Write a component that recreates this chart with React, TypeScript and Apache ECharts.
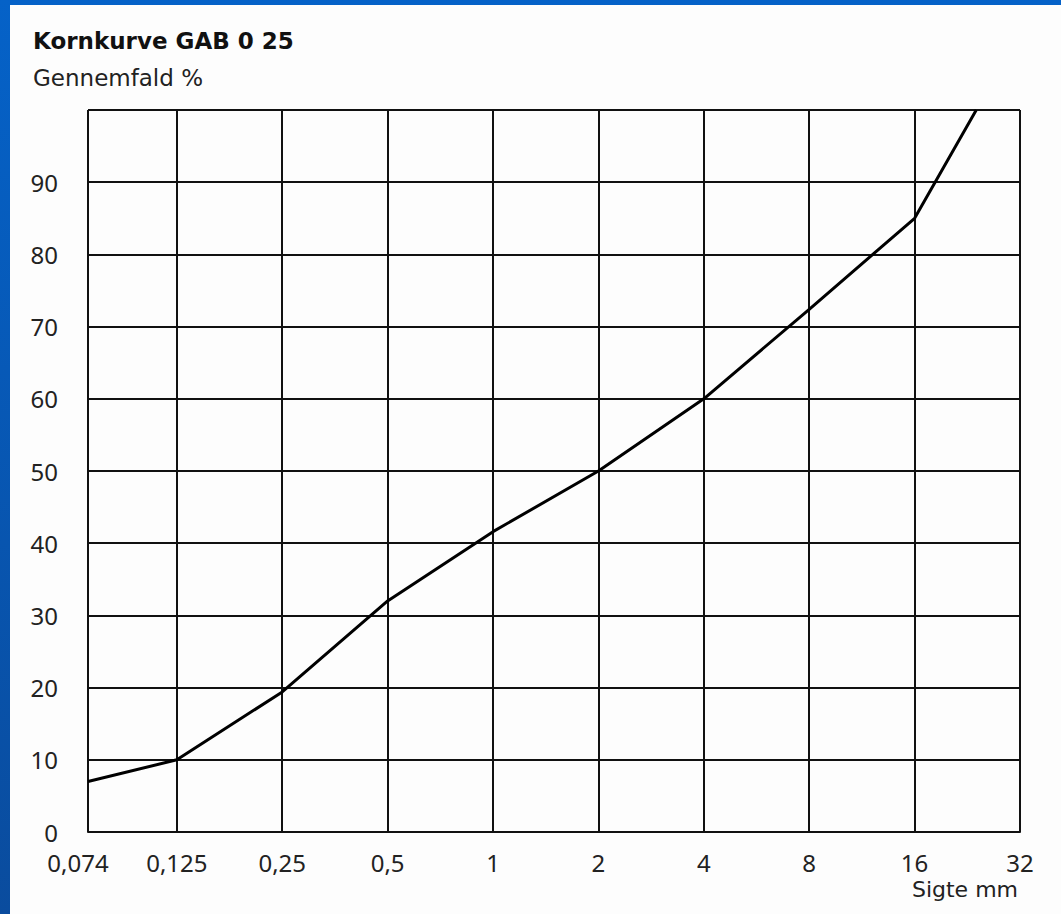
import React, { useEffect, useRef } from "react";
import * as echarts from "echarts";

// Sieve sizes (mm) shown on the x axis, and their printed labels
const sieveSizes = [0.074, 0.125, 0.25, 0.5, 1, 2, 4, 8, 16, 32];
const sieveLabels = ["0,074", "0,125", "0,25", "0,5", "1", "2", "4", "8", "16", "32"];

// Grading curve: sieve size (mm) and passing (%)
const curveSizes = [0.074, 0.125, 0.25, 0.5, 1, 2, 4, 8, 16, 24];
const curvePassing = [7, 10, 19.4, 32, 41.6, 50, 60, 72.4, 85, 100];

const yTicks = [0, 10, 20, 30, 40, 50, 60, 70, 80, 90];

const titleText = "Kornkurve GAB 0 25";
const yName = "Gennemfald %";
const xName = "Sigte mm";

// Drawn width of the first (0,074–0,125) column, in octave units
const FIRST_GAP = 0.843;
function pos(s: number): number {
  if (s >= 0.125) return Math.log2(s / 0.125);
  return -FIRST_GAP * (Math.log2(0.125 / s) / Math.log2(0.125 / 0.074));
}

const FONT = "'Noto Sans', 'DejaVu Sans', sans-serif";
const WIDE = "'DejaVu Sans', 'Noto Sans', sans-serif";

export default function App() {
  const ref = useRef<HTMLDivElement>(null);
  useEffect(() => {
    if (!ref.current) return;
    const chart = echarts.init(ref.current, undefined, { renderer: "svg" });
    const tickPos = sieveSizes.map(pos);
    const indexFor = (v: number) => {
      let best = 0;
      let d = Infinity;
      tickPos.forEach((p, i) => {
        if (Math.abs(p - v) < d) {
          d = Math.abs(p - v);
          best = i;
        }
      });
      return best;
    };
    const tickFont = { color: "#222", fontSize: 24, fontFamily: FONT };
    chart.setOption({
      animation: false,
      backgroundColor: {
        type: "linear",
        x: 0, y: 0, x2: 0, y2: 1,
        colorStops: [
          { offset: 0, color: "#0562c8" },
          { offset: 1, color: "#0a4c9e" },
        ],
      },
      graphic: [
        {
          type: "rect",
          shape: { x: 10, y: 5, width: 1051, height: 909 },
          style: { fill: "#fdfdfd" },
          z: -10,
          silent: true,
        },
        {
          type: "text",
          x: 33,
          y: 41,
          style: {
            text: titleText,
            font: `bold 23px ${WIDE}`,
            fill: "#111",
            verticalAlign: "middle",
          },
        },
        {
          type: "text",
          x: 33,
          y: 78,
          style: {
            text: yName,
            font: `23px ${WIDE}`,
            fill: "#222",
            verticalAlign: "middle",
          },
        },
        {
          type: "text",
          x: 1018,
          y: 889,
          style: {
            text: xName,
            font: `22px ${WIDE}`,
            fill: "#222",
            align: "right",
            verticalAlign: "middle",
          },
        },
      ],
      grid: { left: 88, top: 110, right: 41, bottom: 82, containLabel: false },
      xAxis: {
        type: "value",
        min: pos(0.074),
        max: pos(32),
        axisLine: { show: true, lineStyle: { color: "#111", width: 2 } },
        axisTick: { show: false, customValues: tickPos },
        axisLabel: {
          customValues: tickPos,
          formatter: (v: number) => {
            const i = indexFor(v);
            return i === 0 ? `{first|${sieveLabels[i]}}` : sieveLabels[i];
          },
          ...tickFont,
          margin: 18,
          rich: { first: { ...tickFont, padding: [0, 20, 0, 0] } },
        },
        splitLine: { show: true, lineStyle: { color: "#111", width: 2 } },
      },
      yAxis: {
        type: "value",
        min: 0,
        max: 100,
        interval: 10,
        axisLine: { show: true, lineStyle: { color: "#111", width: 2 } },
        axisTick: { show: false },
        axisLabel: {
          formatter: (v: number) => (yTicks.includes(v) ? String(v) : ""),
          ...tickFont,
          margin: 30,
        },
        splitLine: { show: true, lineStyle: { color: "#111", width: 2 } },
      },
      series: [
        {
          type: "line",
          data: curveSizes.map((s, i) => [pos(s), curvePassing[i]]),
          symbol: "none",
          lineStyle: { color: "#000", width: 3 },
          z: 5,
        },
      ],
    });
    return () => chart.dispose();
  }, []);
  return (
    <div
      ref={ref}
      style={{ position: "absolute", left: 0, top: 0, width: 1061, height: 914 }}
    />
  );
}
